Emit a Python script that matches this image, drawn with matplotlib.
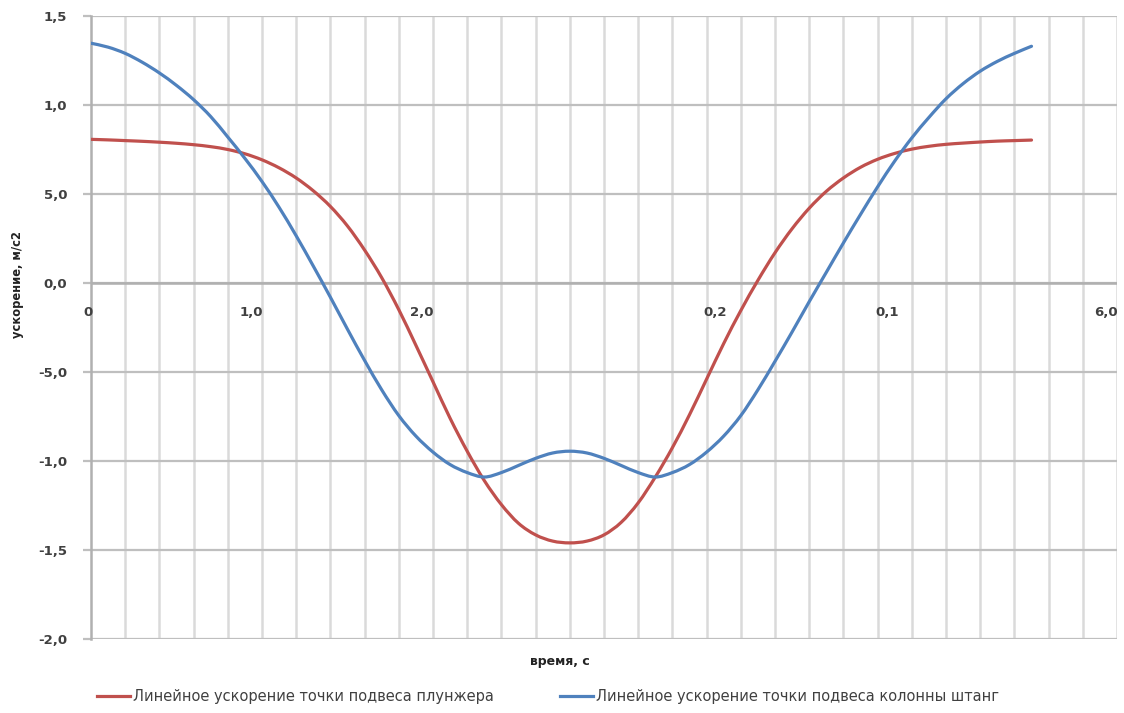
import matplotlib
matplotlib.use("Agg")
import matplotlib.pyplot as plt
import numpy as np
from matplotlib.path import Path
from matplotlib.patches import PathPatch
from matplotlib.lines import Line2D

# time axis, s
time_s = [0.0, 0.1, 0.2, 0.3, 0.4, 0.5, 0.6, 0.7, 0.8, 0.9,
          1.0, 1.1, 1.2, 1.3, 1.4, 1.5, 1.6, 1.7, 1.8, 1.9,
          2.0, 2.1, 2.2, 2.3, 2.4, 2.5, 2.6, 2.7, 2.8, 2.9,
          3.0, 3.1, 3.2, 3.3, 3.4, 3.5, 3.6, 3.7, 3.8, 3.9,
          4.0, 4.1, 4.2, 4.3, 4.4, 4.5, 4.6, 4.7, 4.8, 4.9,
          5.0, 5.1, 5.2, 5.3, 5.4, 5.5]

# linear acceleration of the plunger suspension point
plunger_acc = [0.807, 0.804, 0.800, 0.796, 0.791, 0.785, 0.777, 0.766, 0.750, 0.726,
               0.692, 0.647, 0.590, 0.518, 0.430, 0.320, 0.185, 0.030, -0.150, -0.350,
               -0.555, -0.760, -0.945, -1.110, -1.245, -1.350, -1.415, -1.450, -1.460, -1.450,
               -1.415, -1.345, -1.235, -1.090, -0.925, -0.740, -0.540, -0.340, -0.155, 0.015,
               0.170, 0.305, 0.420, 0.515, 0.590, 0.650, 0.695, 0.728, 0.752, 0.768,
               0.779, 0.786, 0.792, 0.797, 0.800, 0.803]

# linear acceleration of the rod string suspension point
rods_acc = [1.347, 1.325, 1.290, 1.240, 1.180, 1.110, 1.030, 0.935, 0.820, 0.700,
            0.570, 0.425, 0.265, 0.095, -0.080, -0.260, -0.435, -0.600, -0.745, -0.860,
            -0.950, -1.020, -1.065, -1.090, -1.065, -1.025, -0.985, -0.955, -0.945, -0.955,
            -0.985, -1.025, -1.065, -1.090, -1.065, -1.020, -0.950, -0.860, -0.745, -0.600,
            -0.440, -0.275, -0.105, 0.060, 0.225, 0.385, 0.540, 0.685, 0.815, 0.930,
            1.035, 1.120, 1.190, 1.245, 1.290, 1.330]

y_ticks = [1.5, 1.0, 0.5, 0.0, -0.5, -1.0, -1.5, -2.0]
y_tick_labels = ["1,5", "1,0", "5,0", "0,0", "-5,0", "-1,0", "-1,5", "-2,0"]
x_tick_labels = ["0", "1,0", "2,0", "0,2", "0,1", "6,0"]
x_label_pos = [-0.02, 0.94, 1.935, 3.65, 4.655, 5.935]

series_names = ["Линейное ускорение точки подвеса плунжера",
                "Линейное ускорение точки подвеса колонны штанг"]

RED = "#C0504D"
BLUE = "#4F81BD"
TXT = "#404040"
LW = 2.3

plt.rcParams["font.family"] = ["DejaVu Sans"]


def smooth_path(xs, ys):
    """Bezier path through every point (Catmull-Rom tangents), like a smoothed chart line."""
    p = np.column_stack([xs, ys]).astype(float)
    ext = np.vstack([p[0], p, p[-1]])
    verts = [p[0]]
    codes = [Path.MOVETO]
    for i in range(len(p) - 1):
        p0, p1, p2, p3 = ext[i], ext[i + 1], ext[i + 2], ext[i + 3]
        c1 = p1 + (p2 - p0) / 6.0
        c2 = p2 - (p3 - p1) / 6.0
        verts += [c1, c2, p2]
        codes += [Path.CURVE4] * 3
    return Path(verts, codes)


fig = plt.figure(figsize=(11.24, 7.13), dpi=100)
ax = fig.add_axes([91 / 1124, 74 / 713, 1026 / 1124, 623 / 713])

ax.set_xlim(0, 6.0)
ax.set_ylim(-2.0, 1.5)

# grid: vertical every 0.2 s, horizontal every 0.5
for gx in [i * 0.2 for i in range(1, 31)]:
    ax.axvline(gx, color="#DADADA", lw=1.8, zorder=0)
for gy in y_ticks:
    ax.axhline(gy, color="#BFBFBF", lw=1.6, zorder=0.5)
ax.axhline(0.0, color="#B0B0B0", lw=1.8, zorder=0.6)

for ys, col in [(plunger_acc, RED), (rods_acc, BLUE)]:
    ax.add_patch(PathPatch(smooth_path(time_s, ys), facecolor="none", edgecolor=col,
                           lw=LW, capstyle="round", joinstyle="round", zorder=3))

for s in ["top", "right", "bottom"]:
    ax.spines[s].set_visible(False)
ax.spines["left"].set_color("#B0B0B0")
ax.spines["left"].set_linewidth(1.8)

ax.set_yticks(y_ticks)
ax.set_yticklabels(y_tick_labels, fontsize=9.5, fontweight="bold", color=TXT)
ax.tick_params(axis="y", direction="out", length=6, width=1.6, color="#BFBFBF", pad=11)
ax.set_xticks([])

for xp, lab in zip(x_label_pos, x_tick_labels):
    ax.text(xp, -0.166, lab, ha="center", va="center",
            fontsize=9.5, fontweight="bold", color=TXT)

fig.text(18 / 1124, 1 - 285 / 713, "ускорение, м/с2", rotation=90,
         ha="center", va="center", fontsize=8.3, fontweight="bold", color="#222222")
fig.text(560 / 1124, 1 - 662 / 713, "время, с", ha="center", va="center",
         fontsize=9, fontweight="bold", color="#222222")

handles = [Line2D([], [], color=RED, lw=LW), Line2D([], [], color=BLUE, lw=LW)]
fig.legend(handles, series_names, loc="center", bbox_to_anchor=(548 / 1124, 1 - 697 / 713),
           ncol=2, frameon=False, fontsize=10.5, handlelength=2.26, handletextpad=0.2,
           columnspacing=4.6, labelcolor=TXT)

fig.savefig("out.png", dpi=100, facecolor="white")
